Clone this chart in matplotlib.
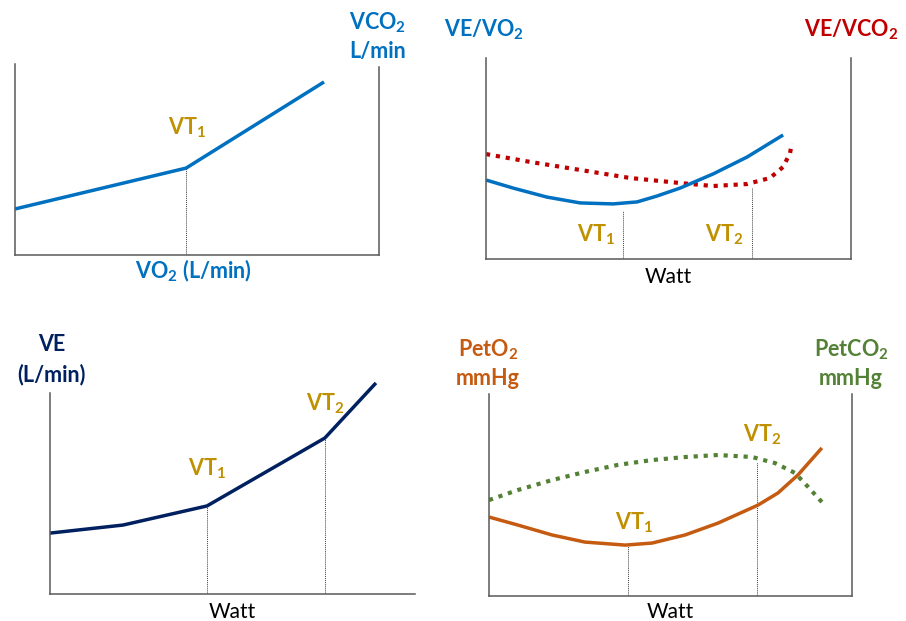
import matplotlib
matplotlib.use("Agg")
import matplotlib.pyplot as plt

plt.rcParams['font.family'] = ['Lato', 'DejaVu Sans']
plt.rcParams['mathtext.fontset'] = 'custom'
plt.rcParams['mathtext.rm'] = 'Lato'
plt.rcParams['mathtext.bf'] = 'Lato:bold'
plt.rcParams['mathtext.default'] = 'bf'

BLUE = '#0070C0'
RED = '#C00000'
NAVY = '#002060'
ORANGE = '#C55A11'
GREEN = '#538135'
GOLD = '#BF9000'
AXIS = '#595959'

# panel 1: VCO2 vs VO2 (relative units, 0-100)
vco2_x = [0, 47.0, 84.9]
vco2_y = [24.1, 45.5, 90.6]
vco2_vt1 = 47.0

# panel 2: ventilatory equivalents vs Watt
eqo2_x = [0, 7.4, 16.7, 25.8, 34.8, 41.4, 46.8, 53.2, 62.2, 71.5, 81.4]
eqo2_y = [39.3, 35.3, 30.8, 27.9, 27.4, 28.4, 31.3, 35.3, 42.3, 50.7, 61.7]
eqco2_x = [0, 12.1, 25.8, 39.5, 53.2, 62.2, 71.5, 77.8, 81.4, 83.3, 83.8]
eqco2_y = [52.2, 48.3, 44.3, 40.3, 37.8, 36.3, 37.3, 40.3, 45.8, 52.7, 57.7]
eq_vt = [37.5, 72.9]
eq_vt_top = [23.9, 35.3]

# panel 3: VE vs Watt
ve_x = [0, 20.0, 43.0, 75.3, 89.3]
ve_y = [30.3, 34.3, 43.8, 77.6, 105.0]
ve_vt = [43.0, 75.3]
ve_vt_top = [43.8, 77.6]

# panel 4: end-tidal pressures vs Watt
peto2_x = [0, 8.0, 17.4, 26.4, 37.5, 44.9, 54.0, 63.1, 74.1, 79.6, 85.1, 91.7]
peto2_y = [39.1, 35.1, 30.2, 26.7, 25.2, 26.2, 30.2, 36.1, 45.0, 51.0, 59.9, 73.3]
petco2_x = [0, 8.0, 17.4, 26.4, 35.5, 44.9, 54.0, 63.1, 72.5, 78.8, 84.3, 87.9, 91.7]
petco2_y = [47.5, 52.5, 57.4, 61.4, 64.9, 67.3, 68.8, 69.8, 68.8, 65.8, 60.9, 54.0, 46.5]
pet_vt = [38.3, 73.8]
pet_vt_top = [25.2, 66.3]

W, H = 906, 621
fig = plt.figure(figsize=(W / 100, H / 100), dpi=100)


def panel(x0, x1, ytop, ybot, right=True):
    ax = fig.add_axes([x0 / W, 1 - ybot / H, (x1 - x0) / W, (ybot - ytop) / H])
    ax.set_xlim(0, 100)
    ax.set_ylim(0, 100)
    ax.spines['top'].set_visible(False)
    ax.spines['right'].set_visible(right)
    for s in ax.spines.values():
        s.set_color(AXIS)
        s.set_linewidth(1.1)
    ax.set_xticks([])
    ax.set_yticks([])
    ax.patch.set_alpha(0)
    return ax


def vlines(ax, xs, tops):
    for x, t in zip(xs, tops):
        ax.plot([x, x], [0, t], color='#404040', lw=0.7, ls=(0, (1, 1)), zorder=1)


def label(ax, x, y, s, color, **kw):
    ax.text(x, y, s, color=color, ha='center', va='center', fontsize=15.5,
            fontweight='bold', clip_on=False, **kw)


def watt(ax, y):
    ax.text(50, y, 'Watt', color='black', ha='center', va='center',
            fontsize=15, clip_on=False)


dotted = (0, (1, 1.4))
solid = dict(lw=2.5, solid_capstyle='butt', solid_joinstyle='round')

# panel 1
ax1 = panel(15, 379, 64, 255)
ax1.spines['right'].set_bounds(0, 98.4)
vlines(ax1, [vco2_vt1], [vco2_y[1]])
ax1.plot(vco2_x, vco2_y, color=BLUE, **solid)
label(ax1, 47.3, 66.5, '$VT_1$', GOLD)
label(ax1, 99.7, 121.5, 'VCO$_2$', BLUE)
label(ax1, 99.7, 106.3, 'L/min', BLUE)
label(ax1, 48.9, -8.4, 'VO$_2$ (L/min)', BLUE)

# panel 2
ax2 = panel(486, 851, 58, 259)
vlines(ax2, eq_vt, eq_vt_top)
ax2.plot(eqco2_x, eqco2_y, color=RED, lw=3.0, ls=dotted)
ax2.plot(eqo2_x, eqo2_y, color=BLUE, **solid)
label(ax2, 30.1, 11.9, '$VT_1$', GOLD)
label(ax2, 65.2, 11.9, '$VT_2$', GOLD)
label(ax2, -0.5, 113.9, 'VE/VO$_2$', BLUE)
label(ax2, 100, 113.9, 'VE/VCO$_2$', RED)
watt(ax2, -9.0)

# panel 3
ax3 = panel(50, 415, 393, 594, right=False)
vlines(ax3, ve_vt, ve_vt_top)
ax3.plot(ve_x, ve_y, color=NAVY, clip_on=False, **solid)
label(ax3, 43.0, 62.2, '$VT_1$', GOLD)
label(ax3, 75.3, 94.5, '$VT_2$', GOLD)
label(ax3, 0.5, 123.9, 'VE', NAVY)
label(ax3, 0.5, 109.0, '(L/min)', NAVY)
watt(ax3, -9.0)

# panel 4
ax4 = panel(489, 852, 394, 596)
vlines(ax4, pet_vt, pet_vt_top)
ax4.plot(petco2_x, petco2_y, color=GREEN, lw=3.0, ls=dotted)
ax4.plot(peto2_x, peto2_y, color=ORANGE, **solid)
label(ax4, 39.9, 36.1, '$VT_1$', GOLD)
label(ax4, 75.2, 79.7, '$VT_2$', GOLD)
label(ax4, -0.3, 121.8, 'PetO$_2$', ORANGE)
label(ax4, -0.3, 107.9, 'mmHg', ORANGE)
label(ax4, 99.7, 121.8, 'PetCO$_2$', GREEN)
label(ax4, 99.7, 107.9, 'mmHg', GREEN)
watt(ax4, -7.9)

fig.savefig('out.png', dpi=100)
